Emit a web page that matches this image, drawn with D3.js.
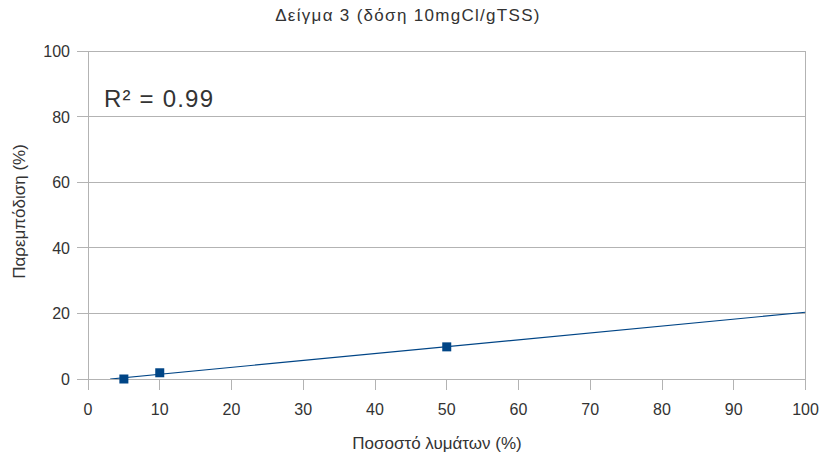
<!DOCTYPE html>
<html>
<head>
<meta charset="utf-8">
<script src="https://cdn.jsdelivr.net/npm/d3@7"></script>
<style>
  body { margin: 0; background: #fff; }
  svg { display: block; font-family: "Liberation Sans", Arial, sans-serif; }
</style>
</head>
<body>
<svg id="chart" width="823" height="456"></svg>
<script>
// Sample 3 measurements: sludge percentage vs. inhibition
const sludgePct = [5, 10, 50];
const inhibition = [0, 1.9, 9.8];
const xTicks = [0, 10, 20, 30, 40, 50, 60, 70, 80, 90, 100];
const yTicks = [0, 20, 40, 60, 80, 100];
const titleText = "Δείγμα 3 (δόση 10mgCl/gTSS)";
const xTitle = "Ποσοστό λυμάτων (%)";
const yTitle = "Παρεμπόδιση (%)";
const r2Label = "R² = 0.99";

const svg = d3.select("#chart");
const m = { left: 88, right: 823 - 805.5, top: 51, bottom: 456 - 379 };
const W = 823, H = 456;

const x = d3.scaleLinear().domain([0, 100]).range([m.left, W - m.right]);
const y = d3.scaleLinear().domain([0, 100]).range([H - m.bottom, m.top]);

const gridColor = "#b3b3b3";
const textColor = "#333";

// horizontal gridlines (with outward tick stubs on the left)
svg.append("g").selectAll("line").data(yTicks).join("line")
  .attr("x1", m.left - 11).attr("x2", W - m.right)
  .attr("y1", d => y(d)).attr("y2", d => y(d))
  .attr("stroke", gridColor).attr("stroke-width", 1)
  .attr("shape-rendering", "crispEdges");

// plot frame sides + x tick stubs
[0, 100].forEach(v => svg.append("line")
  .attr("x1", x(v)).attr("x2", x(v)).attr("y1", y(100)).attr("y2", y(0) + 11)
  .attr("stroke", gridColor).attr("shape-rendering", "crispEdges"));
svg.append("g").selectAll("line").data(xTicks).join("line")
  .attr("x1", d => x(d)).attr("x2", d => x(d))
  .attr("y1", y(0)).attr("y2", y(0) + 11)
  .attr("stroke", gridColor).attr("shape-rendering", "crispEdges");

// tick labels
svg.append("g").selectAll("text").data(xTicks).join("text")
  .attr("x", d => x(d)).attr("y", y(0) + 36)
  .attr("text-anchor", "middle").attr("font-size", 16).attr("fill", textColor)
  .text(d => d);
svg.append("g").selectAll("text").data(yTicks).join("text")
  .attr("x", m.left - 18).attr("y", d => y(d) + 6)
  .attr("text-anchor", "end").attr("font-size", 16).attr("fill", textColor)
  .text(d => d);

// linear trendline (least squares), clipped to the plot area
const mx = d3.mean(sludgePct), my = d3.mean(inhibition);
const sxy = d3.sum(sludgePct.map((v, i) => (v - mx) * (inhibition[i] - my)));
const sxx = d3.sum(sludgePct.map(v => (v - mx) ** 2));
const slope = sxy / sxx, intercept = my - slope * mx;
const x0 = Math.max(0, -intercept / slope);

svg.append("defs").append("clipPath").attr("id", "plotclip")
  .append("rect").attr("x", x(0)).attr("y", y(100))
  .attr("width", x(100) - x(0)).attr("height", y(0) - y(100));

svg.append("line")
  .attr("clip-path", "url(#plotclip)")
  .attr("x1", x(x0)).attr("y1", y(slope * x0 + intercept))
  .attr("x2", x(100)).attr("y2", y(slope * 100 + intercept))
  .attr("stroke", "#004586").attr("stroke-width", 1.2);

// data markers
const ms = 9;
svg.append("g").selectAll("rect").data(sludgePct).join("rect")
  .attr("x", d => x(d) - ms / 2)
  .attr("y", (d, i) => y(inhibition[i]) - ms / 2)
  .attr("width", ms).attr("height", ms)
  .attr("fill", "#004586");

// R² annotation
svg.append("text")
  .attr("x", 104).attr("y", 107)
  .attr("font-size", 24).attr("letter-spacing", 1.2).attr("fill", textColor)
  .text(r2Label);

// titles
svg.append("text")
  .attr("x", 408).attr("y", 21)
  .attr("text-anchor", "middle").attr("font-size", 17).attr("letter-spacing", 1.3)
  .attr("fill", textColor)
  .text(titleText);
svg.append("text")
  .attr("x", 437).attr("y", 449)
  .attr("text-anchor", "middle").attr("font-size", 17).attr("fill", textColor)
  .text(xTitle);
svg.append("text")
  .attr("transform", `translate(25, 211.5) rotate(-90)`)
  .attr("text-anchor", "middle").attr("font-size", 17).attr("fill", textColor)
  .text(yTitle);
</script>
</body>
</html>
